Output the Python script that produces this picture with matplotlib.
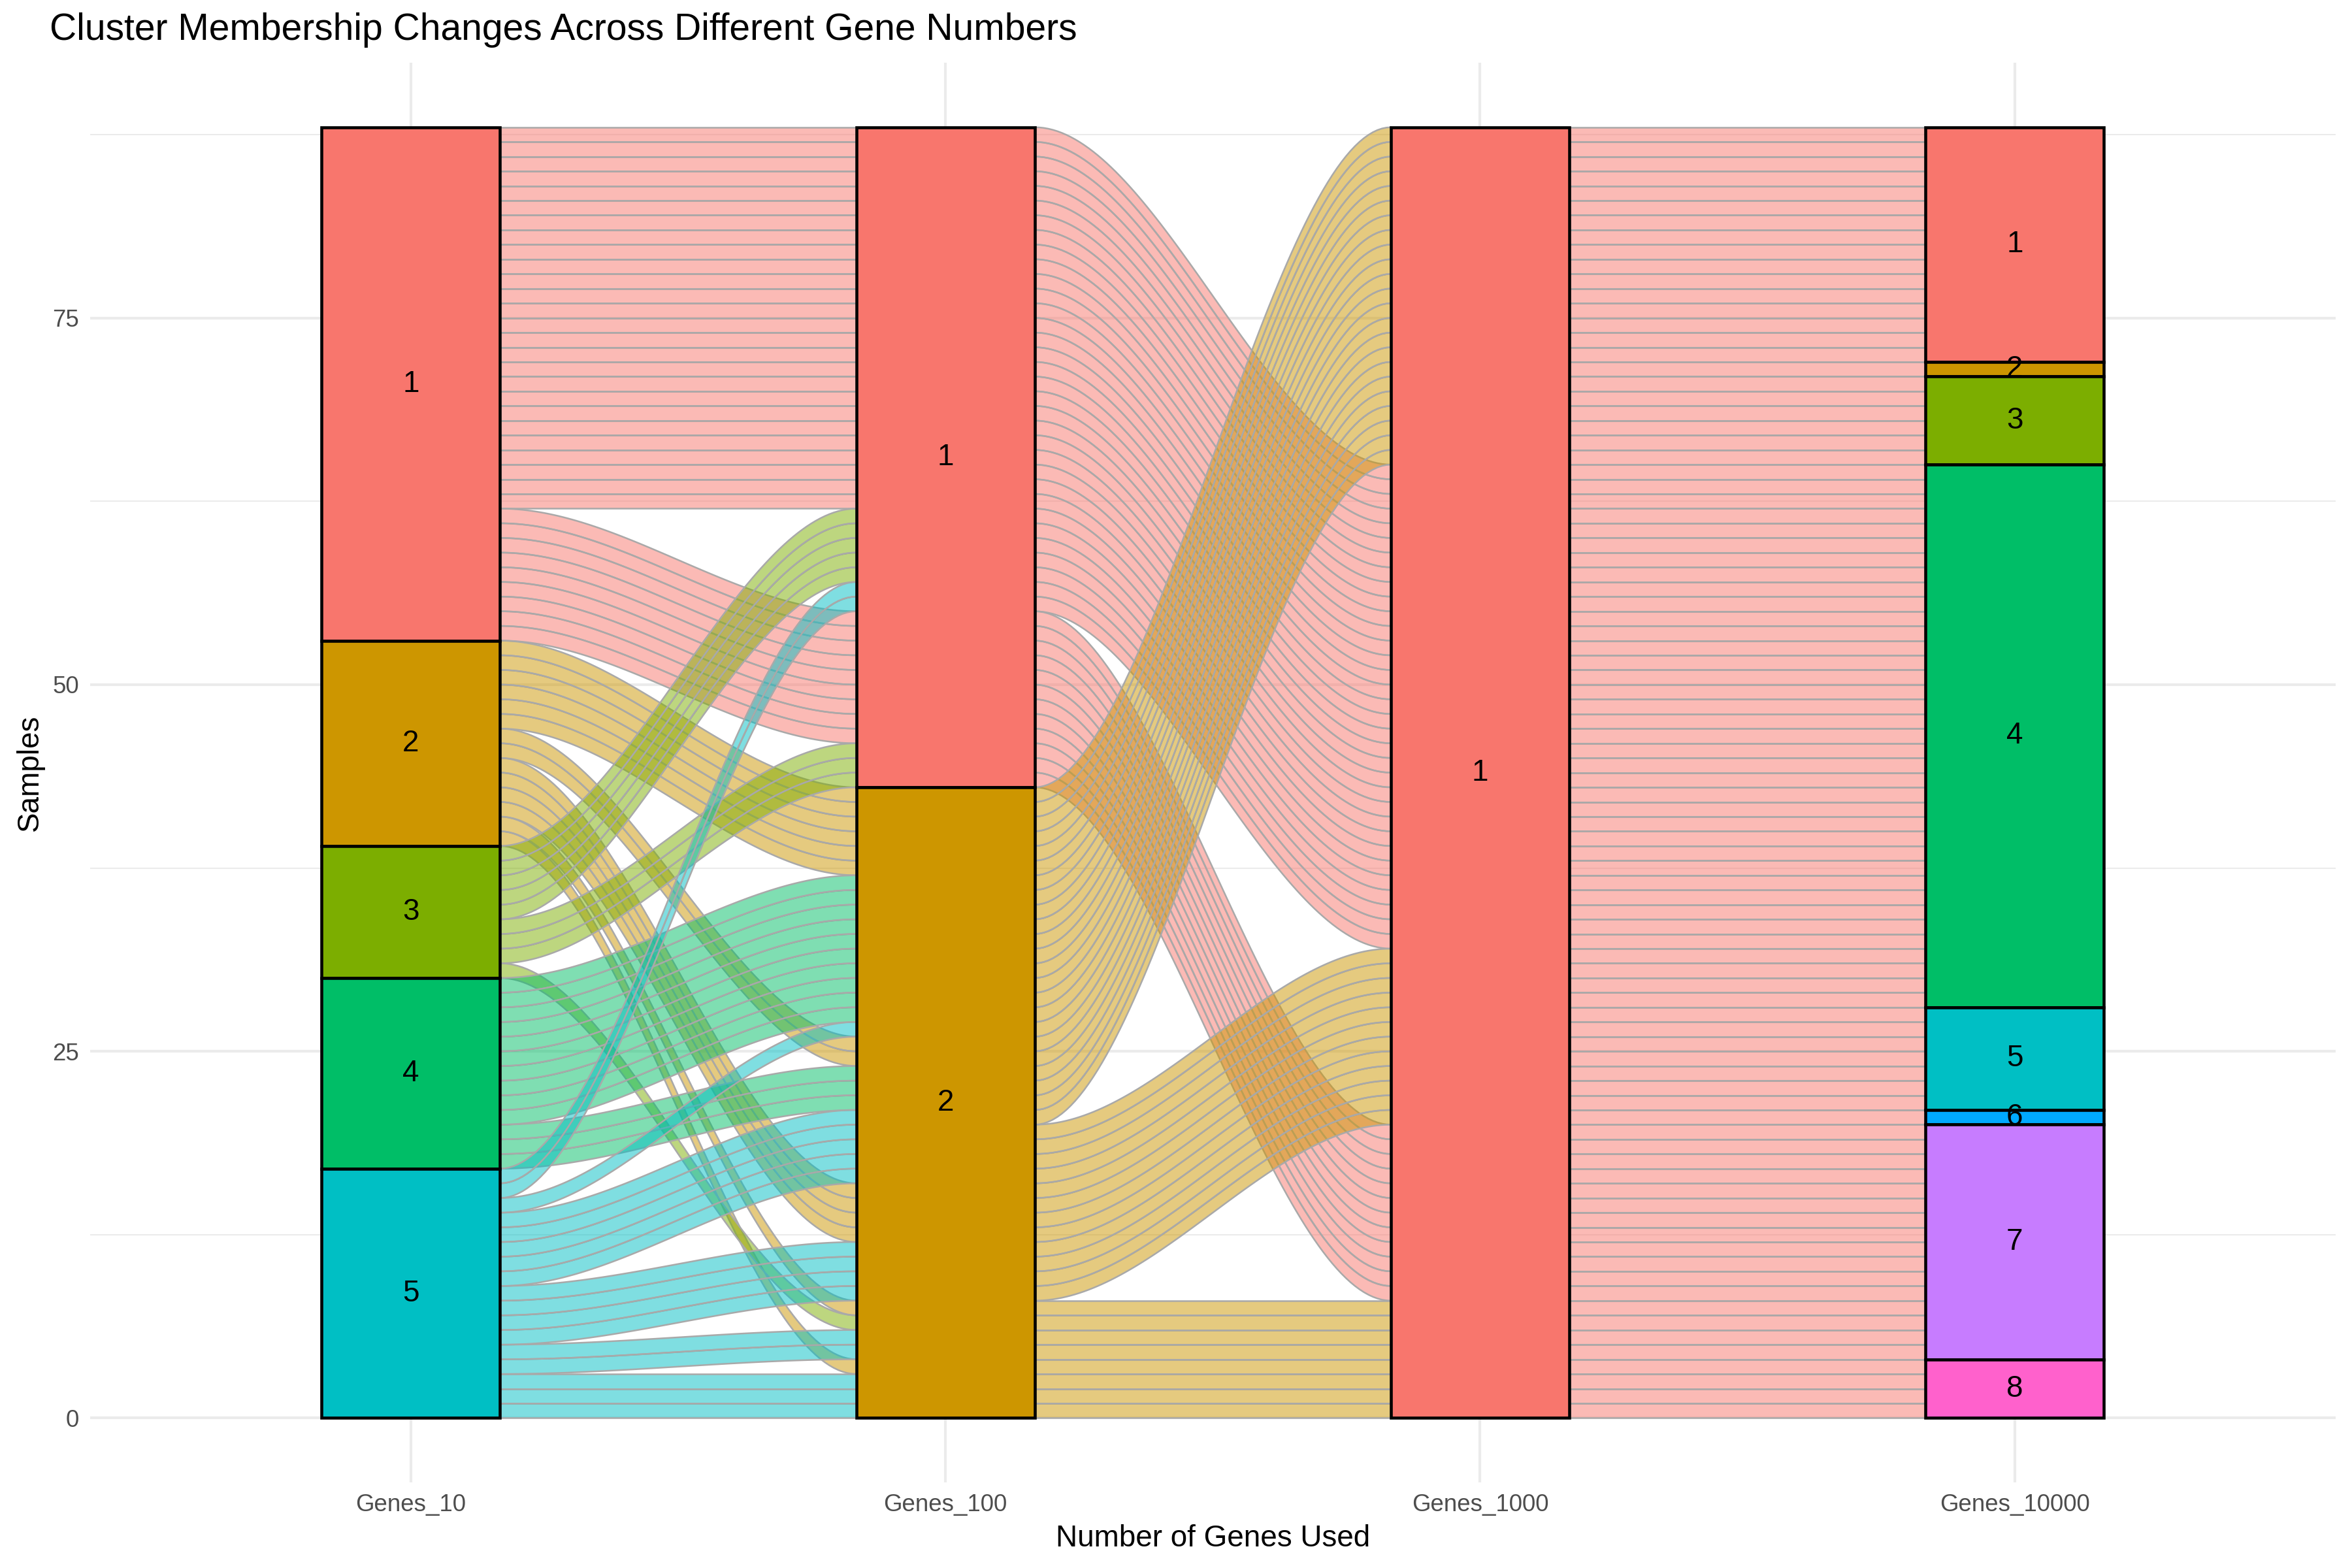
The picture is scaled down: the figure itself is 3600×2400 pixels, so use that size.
import matplotlib
matplotlib.use('Agg')
import matplotlib.pyplot as plt
import numpy as np
from matplotlib.collections import PolyCollection
from matplotlib.patches import Rectangle

plt.rcParams['font.family'] = ['Liberation Sans', 'DejaVu Sans']

AXES = ['Genes_10', 'Genes_100', 'Genes_1000', 'Genes_10000']
HUE = ['#F8766D', '#CD9600', '#7CAE00', '#00BE67', '#00BFC4', '#00A9FF', '#C77CFF', '#FF61CC']

# strata per axis, listed top to bottom
STRATA_CLUSTERS = [[1, 2, 3, 4, 5], [1, 2], [1], [1, 2, 3, 4, 5, 6, 7, 8]]
STRATA_COUNTS = [[35, 14, 9, 13, 17], [45, 43], [88], [16, 1, 6, 37, 7, 1, 16, 4]]

# flow bundles between neighbouring axes: source cluster and size, in the
# order they leave the left axis; RIGHT gives the order they arrive on the right
SEG1_SRC = [1, 1, 2, 2, 2, 2, 2, 3, 3, 3, 4, 4, 5, 5, 5, 5, 5, 5]
SEG1_N = [26, 9, 6, 2, 4, 1, 1, 5, 3, 1, 10, 3, 2, 1, 5, 4, 2, 3]
SEG1_RIGHT = [0, 7, 12, 1, 8, 2, 10, 13, 3, 11, 14, 4, 15, 5, 9, 16, 6, 17]

SEG2_SRC = [1, 1, 2, 2, 2]
SEG2_N = [33, 12, 23, 12, 8]
SEG2_RIGHT = [2, 0, 3, 1, 4]

SEG3_SRC = [1, 1, 1, 1, 1, 1, 1, 1]
SEG3_N = [16, 1, 6, 37, 7, 1, 16, 4]
SEG3_RIGHT = [0, 1, 2, 3, 4, 5, 6, 7]

TOTAL = 88
WIDTH = 1 / 3


def flow_poly(x0, x1, yl, yr):
    t = np.linspace(0, 1, 80)
    s = t * t * (3 - 2 * t)
    xs = x0 + (x1 - x0) * t
    top = yl + (yr - yl) * s
    bot = top - 1
    return np.column_stack([np.r_[xs, xs[::-1]], np.r_[top, bot[::-1]]])


def draw_segment(ax, i, src, n, right):
    x0 = i + 1 + WIDTH / 2
    x1 = i + 2 - WIDTH / 2
    left_top = TOTAL - np.concatenate([[0], np.cumsum(n)[:-1]])
    right_top = np.zeros(len(n))
    pos = TOTAL
    for k in right:
        right_top[k] = pos
        pos -= n[k]
    polys, colors = [], []
    for b in range(len(n)):
        for j in range(n[b]):
            polys.append(flow_poly(x0, x1, left_top[b] - j, right_top[b] - j))
            colors.append(matplotlib.colors.to_rgba(HUE[src[b] - 1], 0.5))
    pc = PolyCollection(polys, facecolors=colors, edgecolors='#A9A9A9',
                        linewidths=0.6, zorder=2)
    ax.add_collection(pc)


fig = plt.figure(figsize=(12, 8), dpi=300)
ax = fig.add_axes([0.0383, 0.0545, 0.9547, 0.9055])

draw_segment(ax, 0, SEG1_SRC, SEG1_N, SEG1_RIGHT)
draw_segment(ax, 1, SEG2_SRC, SEG2_N, SEG2_RIGHT)
draw_segment(ax, 2, SEG3_SRC, SEG3_N, SEG3_RIGHT)

for i, (clusters, counts) in enumerate(zip(STRATA_CLUSTERS, STRATA_COUNTS)):
    top = TOTAL
    for c, cnt in zip(clusters, counts):
        ax.add_patch(Rectangle((i + 1 - WIDTH / 2, top - cnt), WIDTH, cnt,
                               facecolor=HUE[c - 1], edgecolor='black',
                               linewidth=1.1, zorder=3))
        ax.text(i + 1, top - cnt / 2, str(c), ha='center', va='center',
                fontsize=11, color='black', zorder=4)
        top -= cnt

ax.set_xlim(0.4, 4.6)
ax.set_ylim(-4.4, 92.4)
ax.set_xticks(range(1, 5))
ax.set_xticklabels(AXES)
ax.set_yticks([0, 25, 50, 75])
ax.set_yticks([12.5, 37.5, 62.5, 87.5], minor=True)
ax.tick_params(axis='both', which='both', length=0, labelsize=8.8,
               labelcolor='#4D4D4D', pad=4)
ax.grid(True, which='major', color='#EBEBEB', linewidth=1.0, zorder=0)
ax.grid(True, which='minor', axis='y', color='#EBEBEB', linewidth=0.5, zorder=0)
ax.set_axisbelow(True)
for sp in ax.spines.values():
    sp.set_visible(False)

ax.set_xlabel('Number of Genes Used', fontsize=11, labelpad=3)
ax.set_ylabel('Samples', fontsize=11, labelpad=3)
fig.text(0.021, 0.981, 'Cluster Membership Changes Across Different Gene Numbers',
         fontsize=13.7, ha='left', va='center')

fig.savefig('out.png', dpi=300)
